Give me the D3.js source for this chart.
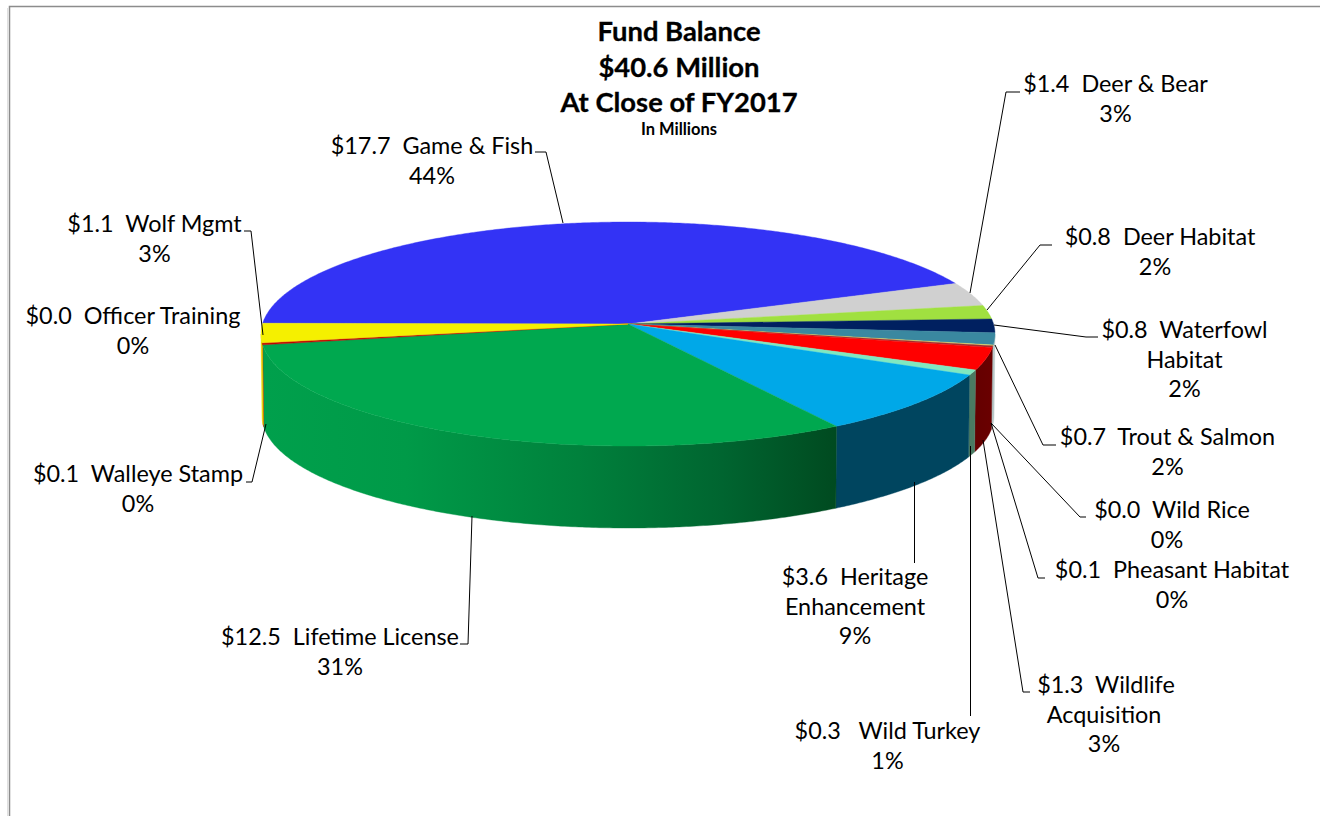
<!DOCTYPE html>
<html><head><meta charset="utf-8">
<script src="https://cdn.jsdelivr.net/npm/d3@7"></script>
<style>html,body{margin:0;padding:0;background:#fff}svg{display:block}text{font-family:Lato,Carlito,sans-serif;fill:#000}</style>
</head><body><svg id="c" width="1320" height="816"></svg>
<script>
const names=["Game & Fish","Deer & Bear","Deer Habitat","Waterfowl Habitat","Trout & Salmon","Wild Rice","Pheasant Habitat","Wildlife Acquisition","Wild Turkey","Heritage Enhancement","Lifetime License","Walleye Stamp","Officer Training","Wolf Mgmt"];
const values=[17.7,1.4,0.8,0.8,0.7,0.04,0.1,1.3,0.3,3.6,12.5,0.1,0.04,1.1];
const topColors=["#3333f5","#d0d0d0","#a0e040","#002060","#3a88a0","#f0f070","#a03030","#ff0000","#80e8c0","#00a8e8","#00a84f","#c00000","#e0a000","#f5f000"];
const wallLeft=["#3333f5","#b0b0b0","#80b030","#001840","#b8c8c8","#c0d0d0","#a0b0b0","#6a0000","#4a7a62","#00455f","#00a04c","#c02000","#e0a000","#e8d800"];
const wallRight=["#3333f5","#b0b0b0","#80b030","#001840","#b8c8c8","#c0d0d0","#a0b0b0","#640000","#4a7a62","#00455f","#004a20","#c02000","#e0a000","#e8d800"];
const labels=[
 {lines:["$17.7  Game & Fish","44%"],x:432,y:154,leader:[[535,152],[546,152],[563,223]]},
 {lines:["$1.4  Deer & Bear","3%"],x:1115.5,y:92,leader:[[1020,92],[1006,92],[970,293]]},
 {lines:["$0.8  Deer Habitat","2%"],x:1155,dx:5,y:245,leader:[[1052,245],[1040,245],[987,310]]},
 {lines:["$0.8  Waterfowl","Habitat","2%"],x:1184.5,y:338,leader:[[1098,337],[1086,337],[994,325]]},
 {lines:["$0.7  Trout & Salmon","2%"],x:1167.5,y:445,leader:[[1056,445],[1043,445],[995,345]]},
 {lines:["$0.0  Wild Rice","0%"],x:1167,dx:5,y:518,leader:[[1086,517],[1080,517],[991,423]]},
 {lines:["$0.1  Pheasant Habitat","0%"],x:1172,y:578,leader:[[1045,578],[1038,578],[991,423]]},
 {lines:["$1.3  Wildlife","Acquisition","3%"],x:1104,dx:2,y:693,leader:[[1030,692],[1023,692],[983,440]]},
 {lines:["$0.3   Wild Turkey","1%"],x:887.5,y:739,leader:[[970.5,716],[970.5,446]]},
 {lines:["$3.6  Heritage","Enhancement","9%"],x:855,y:585,leader:[[914.5,563],[914.5,482]]},
 {lines:["$12.5  Lifetime License","31%"],x:340,y:645,leader:[[460,644],[468,644],[472,516]]},
 {lines:["$0.1  Walleye Stamp","0%"],x:138,y:482,leader:[[246,482],[252,482],[266,424]]},
 {lines:["$0.0  Officer Training","0%"],x:133,y:324,leader:null},
 {lines:["$1.1  Wolf Mgmt","3%"],x:154.5,y:232,leader:[[244,231],[251,231],[263,335]]}
];
const titleLines=["Fund Balance","$40.6 Million","At Close of FY2017"];
const subtitle="In Millions";

const svg=d3.select("#c");
const W=1320,H=816;
const deg=Math.PI/180;
const topE={cx:628,cy:334,rx:367,ry:112};
const botE={cx:628,cy:416,rx:366,ry:112};
const apex=[628,324];
const persp=(topE.cy-apex[1])/topE.ry;
const start=-89.6*deg;
// circle angle -> picture angle on the ellipse (perspective foreshortening)
function warp(phi){
  const x=Math.sin(phi),y=Math.cos(phi),d=1+persp*y;
  return Math.atan2(x*Math.sqrt(1-persp*persp)/d,(y+persp)/d);
}
const pt=(e,phi)=>{const t=warp(phi);return [e.cx+e.rx*Math.sin(t),e.cy-e.ry*Math.cos(t)];};
const arcs=d3.pie().sort(null).startAngle(start).endAngle(start+2*Math.PI)(values);
const line=d3.line();
function samples(a,b){const n=Math.max(2,Math.ceil((b-a)/(0.5*deg)));return d3.range(n+1).map(i=>a+(b-a)*i/n);}

// frame
svg.append("path").attr("d",`M9.5 816V6.5H${W}`).attr("fill","none").attr("stroke","#8c8c8c").attr("stroke-width",1.5);
svg.append("line").attr("x1",7.5).attr("x2",7.5).attr("y1",8).attr("y2",H).attr("stroke","#e0e0e0");

const defs=svg.append("defs");
function frontRange(d){
  // circle angles facing front are those whose picture angle is between 90 and 270 deg
  const edge=Math.acos(-persp);
  const a=Math.max(d.startAngle,edge),b=Math.min(d.endAngle,2*Math.PI-edge);
  return a<b?[a,b]:null;
}
const wallG=svg.append("g");
arcs.forEach((d,i)=>{
  const r=frontRange(d);if(!r)return;
  const s=samples(r[0],r[1]);
  const upper=s.map(a=>pt(topE,a));
  const lower=s.slice().reverse().map(a=>pt(botE,a));
  const xs=upper.concat(lower).map(p=>p[0]);
  const id="w"+i;
  const g=defs.append("linearGradient").attr("id",id).attr("gradientUnits","userSpaceOnUse")
    .attr("x1",d3.min(xs)).attr("x2",d3.max(xs)).attr("y1",0).attr("y2",0);
  if(i===10){
    [[0,"#00a04c"],[0.25,"#009a48"],[0.55,"#00813c"],[0.8,"#006530"],[1,"#004a20"]].forEach(o=>g.append("stop").attr("offset",o[0]).attr("stop-color",o[1]));
  }else{
    g.append("stop").attr("offset",0).attr("stop-color",wallRight[i]);
    g.append("stop").attr("offset",1).attr("stop-color",wallLeft[i]);
  }
  wallG.append("path").attr("d",line(upper.concat(lower))+"Z").attr("fill",`url(#${id})`).attr("stroke",`url(#${id})`).attr("stroke-width",0.4);
});
// top faces
const topG=svg.append("g");
arcs.forEach((d,i)=>{
  const pts=[apex].concat(samples(d.startAngle,d.endAngle).map(a=>pt(topE,a)));
  topG.append("path").attr("d",line(pts)+"Z").attr("fill",topColors[i]).attr("stroke",topColors[i]).attr("stroke-width",0.4);
});
// leaders
const lg=svg.append("g");
labels.forEach(l=>{if(l.leader)lg.append("path").attr("d",line(l.leader)).attr("fill","none").attr("stroke","#000").attr("stroke-width",1);});
// labels
labels.forEach(l=>{
  const t=svg.append("text").attr("text-anchor","middle").attr("font-size",23.4);
  l.lines.forEach((s,k)=>t.append("tspan").attr("x",l.x+(k===0&&l.dx?l.dx:0)).attr("y",l.y+k*29.5).style("white-space","pre").text(s));
});
// title
titleLines.forEach((s,k)=>svg.append("text").attr("x",679).attr("y",41+k*35.5).attr("text-anchor","middle").attr("font-size",27.4).attr("font-weight",700).attr("stroke","#000").attr("stroke-width",0.3).text(s));
svg.append("text").attr("x",679).attr("y",135).attr("text-anchor","middle").attr("font-size",16.5).attr("font-weight",700).text(subtitle);
</script></body></html>
